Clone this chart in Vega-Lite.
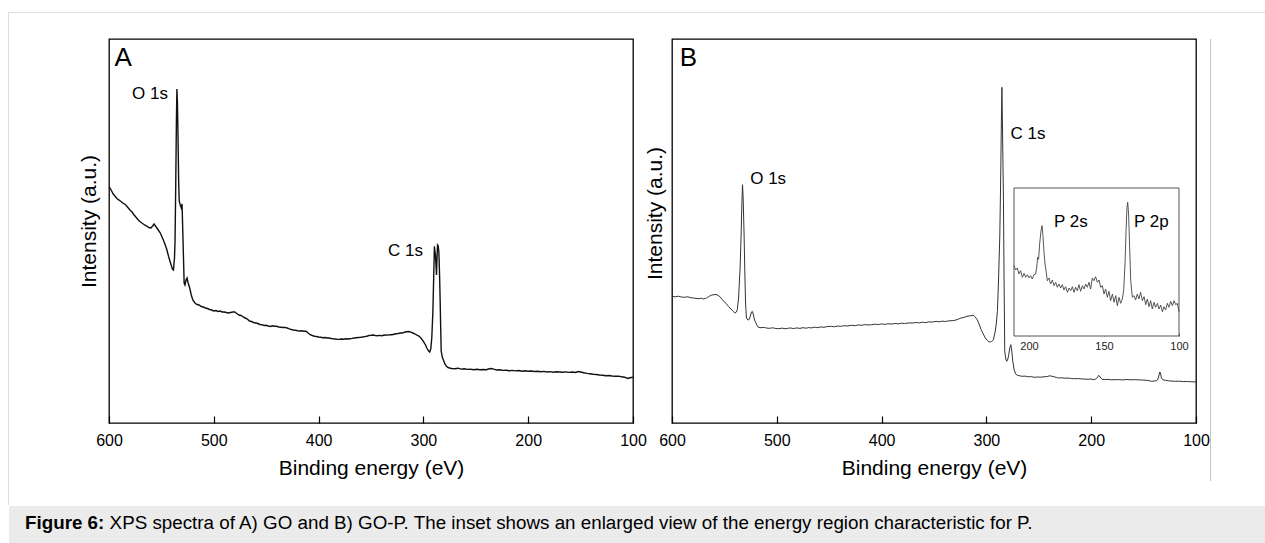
{
  "$schema": "https://vega.github.io/schema/vega-lite/v6.json",
  "padding": {"left": 8, "top": 12, "right": 0, "bottom": 0},
  "autosize": {"type": "pad"},
  "spacing": 0,
  "config": {
    "view": {"stroke": null},
    "font": "Liberation Sans",
    "axis": {"labelFont": "Liberation Sans", "titleFont": "Liberation Sans", "labelColor": "black", "titleColor": "black", "grid": false, "titleFontWeight": "normal"},
    "text": {"font": "Liberation Sans", "color": "black"}
  },
  "hconcat": [
    {"width": 1, "height": 493, "view": {"fill": "#dddddd", "stroke": null}, "data": {"values": []}, "mark": "point"},
    {
      "spacing": 25,
      "vconcat": [
        {"width": 1256, "height": 1, "view": {"fill": "#dddddd", "stroke": null}, "data": {"values": []}, "mark": "point"},
        {
          "spacing": -4,
          "hconcat": [
            {"width": 72, "height": 442, "view": {"stroke": null}, "data": {"values": []}, "mark": "point"},
            {
              "width": 524, "height": 384,
              "view": {"stroke": "black", "strokeWidth": 1.3},
              "layer": [
                {
                  "data": {"values": [
                    {"e":600,"i":236.7},{"e":598,"i":233},{"e":596,"i":229},{"e":594,"i":226.5},{"e":592,"i":224},{"e":590,"i":222.7},{"e":588,"i":221},{"e":586,"i":219.5},{"e":584,"i":218},{"e":582,"i":215.5},{"e":580,"i":213},{"e":578,"i":211},{"e":576,"i":208},{"e":574,"i":205.5},{"e":572,"i":203},{"e":570,"i":201},{"e":568,"i":199.5},{"e":566,"i":198},{"e":564,"i":197},{"e":562,"i":195.5},{"e":560,"i":195},{"e":558,"i":197.5},{"e":557,"i":199},{"e":555,"i":196},{"e":553,"i":193},{"e":551,"i":190},{"e":549,"i":185},{"e":547,"i":180},{"e":545,"i":174},{"e":543,"i":166},{"e":541,"i":159},{"e":539.5,"i":154},{"e":538.5,"i":153},{"e":537.5,"i":165},{"e":537,"i":181},{"e":536.3,"i":240},{"e":535.7,"i":300},{"e":535.2,"i":334},{"e":534.7,"i":320},{"e":534.2,"i":290},{"e":533.5,"i":240},{"e":533,"i":222},{"e":532,"i":218},{"e":531,"i":215},{"e":530.3,"i":219},{"e":529.8,"i":200},{"e":529,"i":168},{"e":528.3,"i":140},{"e":527.5,"i":138},{"e":526.5,"i":143},{"e":525.5,"i":145},{"e":524.5,"i":140},{"e":523,"i":135},{"e":521.5,"i":128},{"e":520,"i":123},{"e":518,"i":120},{"e":516,"i":118.5},{"e":514,"i":118},{"e":512,"i":116.5},{"e":510,"i":116},{"e":508,"i":115},{"e":506,"i":114.5},{"e":504,"i":113.5},{"e":502,"i":113},{"e":500,"i":112},{"e":498,"i":112.5},{"e":496,"i":111.5},{"e":494,"i":112},{"e":492,"i":111},{"e":490,"i":111},{"e":488,"i":110.5},{"e":486,"i":110},{"e":484,"i":110.5},{"e":482,"i":111},{"e":480,"i":111},{"e":478,"i":109.5},{"e":476,"i":108},{"e":474,"i":107.5},{"e":472,"i":106},{"e":470,"i":105},{"e":468,"i":104},{"e":466,"i":102},{"e":464,"i":101.5},{"e":462,"i":100.5},{"e":460,"i":100},{"e":458,"i":99.5},{"e":456,"i":98.5},{"e":454,"i":98.3},{"e":452,"i":97.5},{"e":450,"i":97.7},{"e":448,"i":97},{"e":446,"i":96.5},{"e":444,"i":97.2},{"e":442,"i":96.8},{"e":440,"i":96.7},{"e":438,"i":96},{"e":436,"i":95.8},{"e":434,"i":95.5},{"e":432,"i":95.6},{"e":430,"i":95},{"e":428,"i":94.2},{"e":426,"i":93.5},{"e":424,"i":93},{"e":422,"i":92.8},{"e":420,"i":92.3},{"e":418,"i":92},{"e":416,"i":92.2},{"e":414,"i":91.8},{"e":412,"i":91.7},{"e":410,"i":90},{"e":408,"i":88.3},{"e":406,"i":87.5},{"e":404,"i":86.8},{"e":402,"i":86.5},{"e":400,"i":86},{"e":398,"i":85.7},{"e":396,"i":85.3},{"e":394,"i":85.5},{"e":392,"i":85},{"e":390,"i":85},{"e":388,"i":84.5},{"e":386,"i":84.2},{"e":384,"i":84},{"e":382,"i":83.6},{"e":380,"i":83.7},{"e":378,"i":84},{"e":376,"i":83.8},{"e":374,"i":84.3},{"e":372,"i":84},{"e":370,"i":84.3},{"e":368,"i":84.6},{"e":366,"i":85},{"e":364,"i":85.3},{"e":362,"i":85.5},{"e":360,"i":85.7},{"e":358,"i":86},{"e":356,"i":86.4},{"e":354,"i":86.8},{"e":352,"i":87.5},{"e":350,"i":87.7},{"e":348,"i":88},{"e":346,"i":87.5},{"e":344,"i":87.2},{"e":342,"i":87.6},{"e":340,"i":87.3},{"e":338,"i":87.8},{"e":336,"i":88},{"e":334,"i":87.9},{"e":332,"i":88.3},{"e":330,"i":88.3},{"e":328,"i":88.8},{"e":326,"i":89.2},{"e":324,"i":89.5},{"e":322,"i":90},{"e":320,"i":90},{"e":318,"i":90.8},{"e":316,"i":91.3},{"e":314,"i":91.5},{"e":312,"i":90.8},{"e":310,"i":90},{"e":308,"i":89},{"e":306,"i":87.8},{"e":304,"i":86.7},{"e":302,"i":84.5},{"e":300,"i":81.7},{"e":298,"i":78},{"e":296.5,"i":74.5},{"e":295,"i":72},{"e":294,"i":71},{"e":293,"i":74},{"e":292,"i":85},{"e":291,"i":110},{"e":290.3,"i":140},{"e":289.5,"i":176.7},{"e":289,"i":172},{"e":288.5,"i":168},{"e":288,"i":158},{"e":287.5,"i":148},{"e":287,"i":165},{"e":286.5,"i":178},{"e":285.8,"i":177},{"e":285.2,"i":170},{"e":284.5,"i":145},{"e":284,"i":121.7},{"e":283.5,"i":95},{"e":283,"i":71.7},{"e":282,"i":66},{"e":281,"i":63.3},{"e":279.5,"i":59},{"e":278,"i":56.7},{"e":276.5,"i":55.5},{"e":275,"i":55},{"e":273,"i":54.5},{"e":270,"i":54.3},{"e":267,"i":54.8},{"e":264,"i":53.9},{"e":261,"i":54.2},{"e":258,"i":53.6},{"e":255,"i":53.8},{"e":252,"i":53.2},{"e":249,"i":53.7},{"e":246,"i":53.3},{"e":243,"i":53.5},{"e":240,"i":53.3},{"e":237,"i":54.2},{"e":235,"i":54.5},{"e":233,"i":53.8},{"e":230,"i":53},{"e":227,"i":53.3},{"e":224,"i":52.6},{"e":221,"i":52.8},{"e":218,"i":52.3},{"e":215,"i":52.6},{"e":212,"i":52.1},{"e":209,"i":52.5},{"e":206,"i":51.8},{"e":203,"i":52.2},{"e":200,"i":51.7},{"e":197,"i":52},{"e":194,"i":51.5},{"e":191,"i":51.8},{"e":188,"i":51.3},{"e":185,"i":51.6},{"e":182,"i":51},{"e":179,"i":51.4},{"e":176,"i":50.8},{"e":173,"i":51.2},{"e":170,"i":51},{"e":167,"i":50.7},{"e":164,"i":51.1},{"e":161,"i":50.6},{"e":158,"i":51},{"e":155,"i":50.5},{"e":152,"i":51.5},{"e":150,"i":51},{"e":147,"i":50.2},{"e":144,"i":49.6},{"e":141,"i":49.2},{"e":138,"i":48.8},{"e":135,"i":48.5},{"e":132,"i":48},{"e":129,"i":47.8},{"e":126,"i":47.3},{"e":123,"i":47.5},{"e":120,"i":47},{"e":117,"i":46.7},{"e":114,"i":46.9},{"e":111,"i":46.3},{"e":108,"i":45.8},{"e":105,"i":44.5},{"e":103,"i":45.2},{"e":100,"i":45.7}
                  ]},
                  "mark": {"type": "line", "color": "#111111", "strokeWidth": 1.4, "clip": true},
                  "encoding": {
                    "x": {"field": "e", "type": "quantitative",
                      "scale": {"domain": [100, 600], "reverse": true, "nice": false, "zero": false},
                      "axis": {"orient": "bottom", "offset": -7, "values": [600, 500, 400, 300, 200, 100], "format": "d", "domain": false, "ticks": true, "tickSize": 7, "tickColor": "black", "tickWidth": 1.2, "labels": true, "labelPadding": 9, "labelFontSize": 16, "labelFlush": false, "labelOverlap": false, "title": "Binding energy (eV)", "titleFontSize": 21, "titlePadding": 9}},
                    "y": {"field": "i", "type": "quantitative",
                      "scale": {"domain": [0, 384], "nice": false, "zero": false},
                      "axis": {"orient": "left", "labels": false, "ticks": false, "domain": false, "title": "Intensity (a.u.)", "titleFontSize": 21, "titlePadding": 10, "titleY": 182}}
                  }
                },
                {
                  "data": {"values": [{"e": 594.8, "i": 357, "t": "A"}]},
                  "mark": {"type": "text", "align": "left", "baseline": "alphabetic", "fontSize": 26},
                  "encoding": {"x": {"field": "e", "type": "quantitative"}, "y": {"field": "i", "type": "quantitative"}, "text": {"field": "t"}}
                },
                {
                  "data": {"values": [{"e": 578, "i": 324, "t": "O 1s"}, {"e": 333.8, "i": 167, "t": "C 1s"}]},
                  "mark": {"type": "text", "align": "left", "baseline": "alphabetic", "fontSize": 17},
                  "encoding": {"x": {"field": "e", "type": "quantitative"}, "y": {"field": "i", "type": "quantitative"}, "text": {"field": "t"}}
                }
              ]
            },
            {
              "width": 524, "height": 384,
              "view": {"stroke": "black", "strokeWidth": 1.3},
              "resolve": {"scale": {"x": "independent", "y": "independent"}, "axis": {"x": "independent", "y": "independent"}},
              "layer": [
                {
                  "layer": [
                    {
                      "data": {"values": [
                        {"e":600,"i":126.7},{"e":597,"i":126.2},{"e":594,"i":126.8},{"e":591,"i":126},{"e":588,"i":125.7},{"e":585,"i":126.2},{"e":582,"i":125.3},{"e":579.5,"i":125},{"e":577,"i":124.6},{"e":574,"i":124.3},{"e":572,"i":124.8},{"e":570,"i":124},{"e":568,"i":124.5},{"e":566,"i":125.7},{"e":564,"i":127},{"e":562,"i":128},{"e":560,"i":128.3},{"e":558,"i":128.5},{"e":556,"i":127.7},{"e":554,"i":126},{"e":552,"i":123.5},{"e":550.5,"i":121.7},{"e":548,"i":119},{"e":546,"i":116.5},{"e":544.7,"i":115},{"e":542,"i":112},{"e":540,"i":110},{"e":538.5,"i":111},{"e":537.7,"i":113.3},{"e":536.5,"i":125},{"e":535.5,"i":145},{"e":535,"i":155},{"e":534,"i":190},{"e":533.3,"i":220},{"e":532.7,"i":238.3},{"e":532.1,"i":225},{"e":531.5,"i":200},{"e":531.2,"i":188},{"e":530.5,"i":150},{"e":529.8,"i":120},{"e":529,"i":105},{"e":527.5,"i":103},{"e":526.5,"i":103.3},{"e":525.2,"i":107},{"e":524.2,"i":111},{"e":523.4,"i":111.7},{"e":522.5,"i":109},{"e":521.5,"i":104},{"e":520.7,"i":101.7},{"e":519,"i":98},{"e":517.6,"i":95.7},{"e":515,"i":95.3},{"e":512,"i":95.6},{"e":510,"i":95},{"e":507,"i":94.7},{"e":504,"i":95.2},{"e":501,"i":94.5},{"e":498,"i":94.3},{"e":495,"i":94.9},{"e":492,"i":94.2},{"e":489,"i":94.8},{"e":486.7,"i":95},{"e":484,"i":94.4},{"e":481,"i":95.1},{"e":478,"i":94.6},{"e":475,"i":95.3},{"e":472,"i":94.8},{"e":469,"i":95.5},{"e":467.4,"i":95},{"e":464,"i":95.8},{"e":461,"i":95.3},{"e":458,"i":96.1},{"e":455,"i":95.7},{"e":452,"i":96.4},{"e":448,"i":96.7},{"e":445,"i":96.2},{"e":442,"i":97},{"e":439,"i":96.6},{"e":436,"i":97.3},{"e":433,"i":97},{"e":428.7,"i":97.7},{"e":425,"i":97.3},{"e":422,"i":98.1},{"e":419,"i":97.7},{"e":416,"i":98.4},{"e":412,"i":98},{"e":409.4,"i":98.3},{"e":406,"i":98.8},{"e":403,"i":98.4},{"e":400,"i":99.1},{"e":397,"i":98.6},{"e":394,"i":99.2},{"e":390,"i":99},{"e":387,"i":99.5},{"e":384,"i":99.1},{"e":381,"i":99.8},{"e":378,"i":99.4},{"e":374,"i":100.1},{"e":370.7,"i":100},{"e":367,"i":100.5},{"e":364,"i":100.1},{"e":361,"i":100.8},{"e":358,"i":100.4},{"e":355,"i":101.1},{"e":351.4,"i":101},{"e":348,"i":101.6},{"e":345,"i":101.2},{"e":342,"i":101.9},{"e":339,"i":101.5},{"e":336,"i":102.2},{"e":332,"i":102.3},{"e":329,"i":103},{"e":326.5,"i":104},{"e":324.3,"i":105},{"e":321.5,"i":105.5},{"e":318.5,"i":106.7},{"e":315.5,"i":107.2},{"e":312.7,"i":107.7},{"e":311,"i":106.5},{"e":308.8,"i":103.3},{"e":307,"i":99},{"e":305,"i":93.3},{"e":303,"i":89},{"e":301,"i":85},{"e":299,"i":82.5},{"e":297.5,"i":81.3},{"e":296.4,"i":81},{"e":295,"i":81.5},{"e":293.3,"i":83.3},{"e":291.5,"i":92},{"e":290.5,"i":100},{"e":289.5,"i":111.7},{"e":288.5,"i":140},{"e":287.2,"i":188},{"e":286.3,"i":250},{"e":285.6,"i":310},{"e":285.2,"i":335.7},{"e":284.7,"i":300},{"e":284.2,"i":260},{"e":283.7,"i":221.7},{"e":283.2,"i":150},{"e":282.5,"i":71.7},{"e":281.5,"i":64},{"e":280.6,"i":61.7},{"e":279.5,"i":64},{"e":278.7,"i":68.3},{"e":277.7,"i":75},{"e":276.7,"i":78.3},{"e":275.8,"i":72},{"e":274.8,"i":61.7},{"e":273.5,"i":53},{"e":272.1,"i":49},{"e":270,"i":47.5},{"e":268,"i":47.2},{"e":266.3,"i":46.7},{"e":263,"i":46.9},{"e":260,"i":46.2},{"e":257,"i":46.4},{"e":254.7,"i":45.7},{"e":251,"i":46},{"e":248,"i":45.8},{"e":245,"i":46.2},{"e":242,"i":46.5},{"e":239.5,"i":47.2},{"e":237.3,"i":46.7},{"e":235,"i":46.1},{"e":233,"i":45.6},{"e":231.5,"i":45},{"e":228,"i":45.2},{"e":225,"i":44.8},{"e":222,"i":44.9},{"e":219,"i":44.5},{"e":216,"i":44.3},{"e":212,"i":44.4},{"e":208,"i":44},{"e":204,"i":43.8},{"e":200,"i":43.9},{"e":197,"i":43.3},{"e":195,"i":44.5},{"e":193.5,"i":46.5},{"e":192.8,"i":47.7},{"e":191.5,"i":46},{"e":189.7,"i":43.7},{"e":187,"i":43.5},{"e":184,"i":43.6},{"e":181,"i":43.2},{"e":177.3,"i":43.3},{"e":174,"i":43.4},{"e":170,"i":43.1},{"e":166,"i":43.5},{"e":162,"i":43.2},{"e":158,"i":43.3},{"e":154,"i":43.1},{"e":150,"i":42.9},{"e":146,"i":42.6},{"e":142.5,"i":41.7},{"e":140,"i":42},{"e":137.5,"i":42.3},{"e":136.2,"i":44},{"e":135.3,"i":48},{"e":134.5,"i":51},{"e":133.7,"i":49},{"e":133,"i":45},{"e":131.7,"i":43.3},{"e":129,"i":42.6},{"e":126,"i":42.2},{"e":123,"i":41.9},{"e":119.3,"i":41.7},{"e":116,"i":41.8},{"e":112,"i":41.4},{"e":108,"i":41.5},{"e":104,"i":41.2},{"e":100,"i":41}
                      ]},
                      "mark": {"type": "line", "color": "#333333", "strokeWidth": 1, "clip": true},
                      "encoding": {
                        "x": {"field": "e", "type": "quantitative",
                          "scale": {"domain": [100, 600], "reverse": true, "nice": false, "zero": false},
                          "axis": {"orient": "bottom", "offset": -7, "values": [600, 500, 400, 300, 200, 100], "format": "d", "domain": false, "ticks": true, "tickSize": 7, "tickColor": "black", "tickWidth": 1.2, "labels": true, "labelPadding": 9, "labelFontSize": 16, "labelFlush": false, "labelOverlap": false, "title": "Binding energy (eV)", "titleFontSize": 21, "titlePadding": 9}},
                        "y": {"field": "i", "type": "quantitative",
                          "scale": {"domain": [0, 384], "nice": false, "zero": false},
                          "axis": {"orient": "left", "labels": false, "ticks": false, "domain": false, "title": "Intensity (a.u.)", "titleFontSize": 21, "titlePadding": 7, "titleY": 174}}
                      }
                    },
                    {
                      "data": {"values": [{"e": 592.7, "i": 357, "t": "B"}]},
                      "mark": {"type": "text", "align": "left", "baseline": "alphabetic", "fontSize": 26},
                      "encoding": {"x": {"field": "e", "type": "quantitative"}, "y": {"field": "i", "type": "quantitative"}, "text": {"field": "t"}}
                    },
                    {
                      "data": {"values": [{"e": 525.4, "i": 239, "t": "O 1s"}, {"e": 277, "i": 284, "t": "C 1s"}]},
                      "mark": {"type": "text", "align": "left", "baseline": "alphabetic", "fontSize": 17},
                      "encoding": {"x": {"field": "e", "type": "quantitative"}, "y": {"field": "i", "type": "quantitative"}, "text": {"field": "t"}}
                    }
                  ]
                },
                {
                  "layer": [
                    {
                      "data": {"values": [{"x1": 210, "x2": 100, "y1": 0, "y2": 148}]},
                      "mark": {"type": "rect", "fill": "white", "stroke": "#555555", "strokeWidth": 1},
                      "encoding": {
                        "x": {"field": "x1", "type": "quantitative",
                          "scale": {"domain": [88.67, 438], "reverse": true, "nice": false, "zero": false},
                          "axis": {"orient": "bottom", "offset": -90, "values": [200, 150, 100], "format": "d", "domain": false, "ticks": true, "tickSize": 3, "tickColor": "#555555", "labels": true, "labelPadding": 4, "labelFontSize": 11, "labelColor": "#222222", "labelFlush": false, "labelOverlap": false, "title": null}},
                        "x2": {"field": "x2"},
                        "y": {"field": "y1", "type": "quantitative", "scale": {"domain": [-87, 297], "nice": false, "zero": false}, "axis": null},
                        "y2": {"field": "y2"}
                      }
                    },
                    {
                      "data": {"values": [
                        {"e":210,"i":70.3},{"e":208.9,"i":66},{"e":207.8,"i":68},{"e":206.7,"i":62},{"e":205.6,"i":65.3},{"e":204.4,"i":58.7},{"e":203.3,"i":62.7},{"e":202.2,"i":58.7},{"e":201.1,"i":61.3},{"e":200,"i":58},{"e":198.9,"i":60.3},{"e":197.8,"i":57},{"e":196.7,"i":61.3},{"e":195.6,"i":62},{"e":194.9,"i":68},{"e":194.2,"i":78.7},{"e":193.6,"i":76.7},{"e":192.9,"i":92},{"e":192,"i":105.3},{"e":191.3,"i":110.3},{"e":190.7,"i":100.3},{"e":190,"i":83.7},{"e":189.3,"i":72},{"e":188.7,"i":66},{"e":187.8,"i":55.3},{"e":186.7,"i":58},{"e":185.6,"i":52},{"e":184.4,"i":56},{"e":183.3,"i":50.3},{"e":182.2,"i":53.7},{"e":181.1,"i":48.7},{"e":180,"i":52},{"e":178.9,"i":48},{"e":177.8,"i":51.3},{"e":176.7,"i":46},{"e":175.6,"i":49.3},{"e":174.4,"i":43.7},{"e":173.3,"i":48},{"e":172.2,"i":45.3},{"e":171.1,"i":49.3},{"e":170,"i":43.7},{"e":168.9,"i":48.7},{"e":167.8,"i":45.3},{"e":166.7,"i":51.3},{"e":165.6,"i":44.7},{"e":164.4,"i":50.3},{"e":163.3,"i":47},{"e":162.2,"i":52},{"e":161.1,"i":48.7},{"e":160,"i":53.7},{"e":158.9,"i":47},{"e":157.8,"i":58},{"e":156.7,"i":55.3},{"e":155.6,"i":59.3},{"e":154.4,"i":53.7},{"e":153.3,"i":56},{"e":152.2,"i":48.7},{"e":151.1,"i":50.3},{"e":150,"i":42},{"e":148.9,"i":47},{"e":147.8,"i":38.7},{"e":146.7,"i":44.7},{"e":145.6,"i":35.3},{"e":144.4,"i":42},{"e":143.3,"i":33.7},{"e":142.2,"i":40.3},{"e":141.1,"i":30.3},{"e":140,"i":38.7},{"e":138.9,"i":32.7},{"e":137.8,"i":37},{"e":136.9,"i":45.3},{"e":136,"i":72},{"e":135.3,"i":105.3},{"e":134.7,"i":128.7},{"e":134.2,"i":133.7},{"e":133.6,"i":122},{"e":132.9,"i":88.7},{"e":132.2,"i":55.3},{"e":131.1,"i":38.7},{"e":130,"i":40.3},{"e":128.9,"i":36},{"e":127.8,"i":42},{"e":126.7,"i":37},{"e":125.6,"i":43.7},{"e":124.4,"i":35.3},{"e":123.3,"i":39.3},{"e":122.2,"i":31.3},{"e":121.1,"i":37},{"e":120,"i":29.3},{"e":118.9,"i":35.3},{"e":117.8,"i":27},{"e":116.7,"i":33.7},{"e":115.6,"i":28.7},{"e":114.4,"i":32.7},{"e":113.3,"i":27},{"e":112.2,"i":31},{"e":111.1,"i":24.3},{"e":110,"i":29.3},{"e":108.9,"i":26},{"e":107.8,"i":32.7},{"e":106.7,"i":28.7},{"e":105.6,"i":34.7},{"e":104.4,"i":30.3},{"e":103.3,"i":35.3},{"e":102.2,"i":31.3},{"e":101.1,"i":32.7},{"e":100,"i":24.3}
                      ]},
                      "mark": {"type": "line", "color": "#444444", "strokeWidth": 0.9},
                      "encoding": {
                        "x": {"field": "e", "type": "quantitative", "scale": {"domain": [88.67, 438], "reverse": true, "nice": false, "zero": false}},
                        "y": {"field": "i", "type": "quantitative", "scale": {"domain": [-87, 297], "nice": false, "zero": false}, "axis": null}
                      }
                    },
                    {
                      "data": {"values": [{"e": 183.3, "i": 109, "t": "P 2s"}, {"e": 130, "i": 109, "t": "P 2p"}]},
                      "mark": {"type": "text", "align": "left", "baseline": "alphabetic", "fontSize": 17},
                      "encoding": {
                        "x": {"field": "e", "type": "quantitative", "scale": {"domain": [88.67, 438], "reverse": true, "nice": false, "zero": false}},
                        "y": {"field": "i", "type": "quantitative", "scale": {"domain": [-87, 297], "nice": false, "zero": false}, "axis": null},
                        "text": {"field": "t"}
                      }
                    }
                  ]
                }
              ]
            },
            {"width": 1, "height": 442, "view": {"fill": "#c4c4c4", "stroke": null}, "data": {"values": []}, "mark": "point"}
          ]
        },
        {
          "width": 1256, "height": 38,
          "view": {"fill": "#ebebeb", "stroke": null},
          "layer": [
            {
              "data": {"values": [{"t": "Figure 6:"}]},
              "mark": {"type": "text", "align": "left", "baseline": "middle", "fontSize": 18.8, "fontWeight": "bold", "x": 16, "y": 17},
              "encoding": {"text": {"field": "t"}}
            },
            {
              "data": {"values": [{"t": "XPS spectra of A) GO and B) GO-P. The inset shows an enlarged view of the energy region characteristic for P."}]},
              "mark": {"type": "text", "align": "left", "baseline": "middle", "fontSize": 18.8, "x": 100.6, "y": 17},
              "encoding": {"text": {"field": "t"}}
            }
          ]
        }
      ]
    }
  ]
}
